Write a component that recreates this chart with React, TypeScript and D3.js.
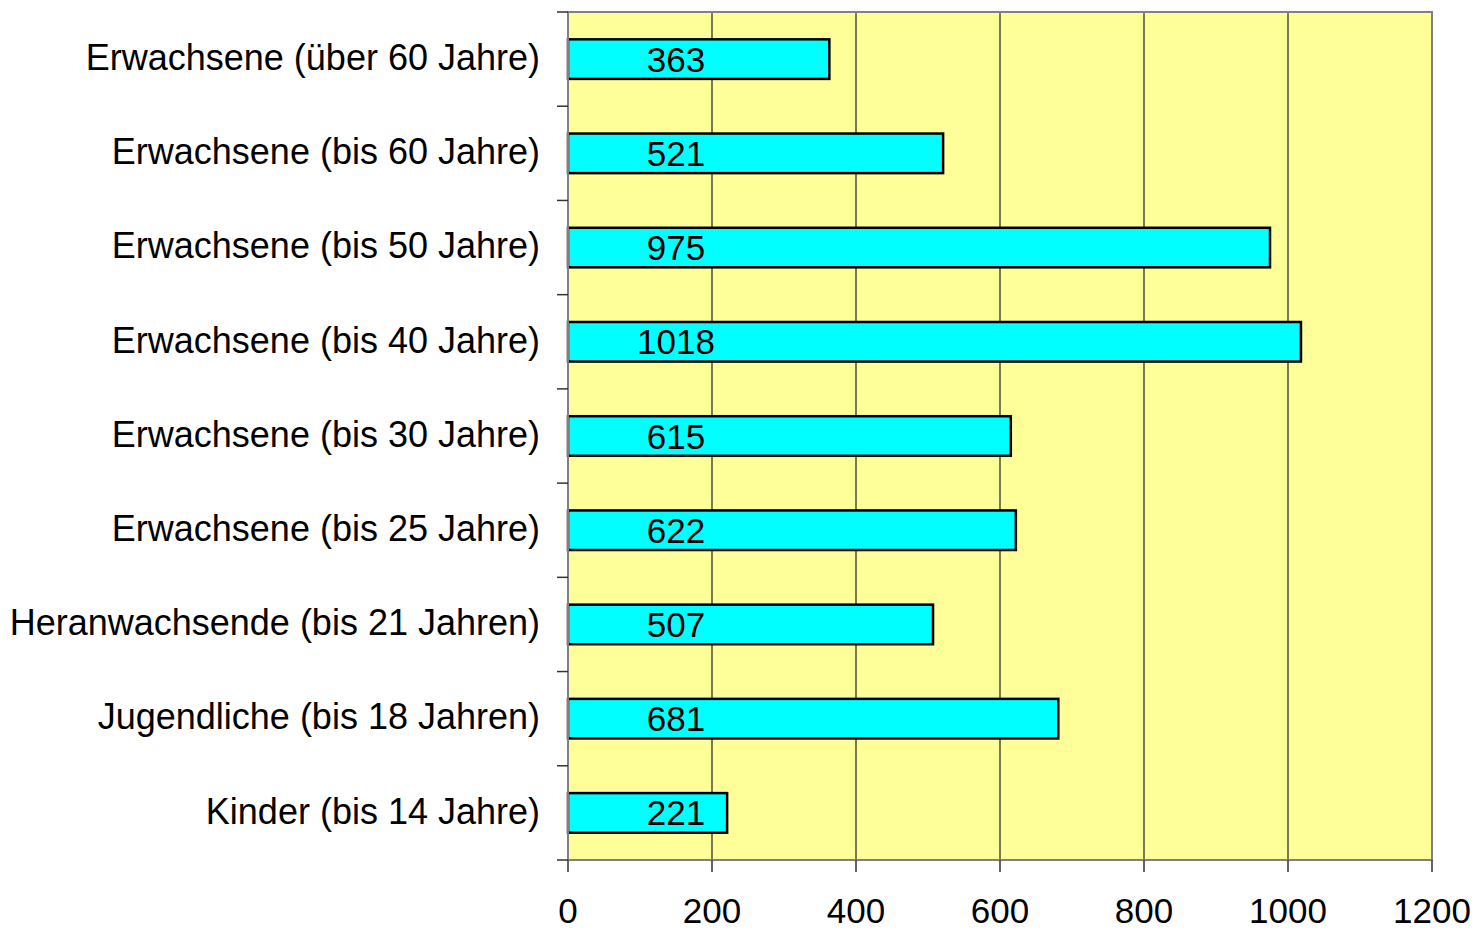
import React, { useEffect } from "react";
import * as d3 from "d3";

const categories = [
  "Erwachsene (über 60 Jahre)",
  "Erwachsene (bis 60 Jahre)",
  "Erwachsene (bis 50 Jahre)",
  "Erwachsene (bis 40 Jahre)",
  "Erwachsene (bis 30 Jahre)",
  "Erwachsene (bis 25 Jahre)",
  "Heranwachsende (bis 21 Jahren)",
  "Jugendliche (bis 18 Jahren)",
  "Kinder (bis 14 Jahre)",
];
const values = [363, 521, 975, 1018, 615, 622, 507, 681, 221];
const xTicks = [0, 200, 400, 600, 800, 1000, 1200];

const W = 1476;
const H = 931;
const left = 568;
const right = 1432;
const top = 12;
const bottom = 860;
const font = "Arial, 'Liberation Sans', sans-serif";

export default function App() {
  useEffect(() => {
    document.body.style.margin = "0";
    document.body.style.overflow = "hidden";
  }, []);

  const x = d3.scaleLinear().domain([0, 1200]).range([left, right]);
  const y = d3.scaleBand().domain(categories).range([top, bottom]).paddingInner(0.58).paddingOuter(0.29);
  const band = (bottom - top) / categories.length;
  const boundaries = d3.range(categories.length + 1).map((i) => top + i * band);

  return (
    <svg width={W} height={H} style={{ display: "block", background: "#fff" }}>
      <rect x={left} y={top} width={right - left} height={bottom - top} fill="#FFFF99" />
      {xTicks.slice(1, -1).map((t) => (
        <line key={"g" + t} x1={x(t)} x2={x(t)} y1={top} y2={bottom} stroke="#222" strokeWidth={1.2} />
      ))}
      {categories.map((c, i) => (
        <g key={c}>
          <rect
            x={x(0)}
            y={y(c)!}
            width={x(values[i]) - x(0)}
            height={y.bandwidth()}
            fill="#00FFFF"
            stroke="#000"
            strokeWidth={2.5}
          />
          <text
            x={x(150)}
            y={y(c)! + y.bandwidth() / 2}
            dy="0.36em"
            textAnchor="middle"
            fontFamily={font}
            fontSize={35}
            fill="#000"
          >
            {values[i]}
          </text>
          <text
            x={540}
            y={top + band * (i + 0.5)}
            dy="0.3em"
            textAnchor="end"
            fontFamily={font}
            fontSize={36}
            fill="#000"
          >
            {c}
          </text>
        </g>
      ))}
      <rect x={left} y={top} width={right - left} height={bottom - top} fill="none" stroke="#808080" strokeWidth={2} />
      {boundaries.map((b, i) => (
        <line key={"yt" + i} x1={557} x2={left} y1={b} y2={b} stroke="#333" strokeWidth={1.5} />
      ))}
      {xTicks.map((t) => (
        <g key={"xt" + t}>
          <line x1={x(t)} x2={x(t)} y1={bottom} y2={872} stroke="#333" strokeWidth={1.5} />
          <text x={x(t)} y={923} textAnchor="middle" fontFamily={font} fontSize={35} fill="#000">
            {t}
          </text>
        </g>
      ))}
    </svg>
  );
}
